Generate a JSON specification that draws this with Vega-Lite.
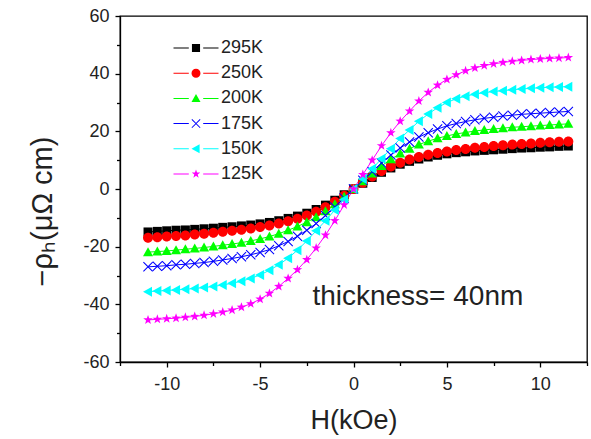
{
  "$schema": "https://vega.github.io/schema/vega-lite/v6.json",
  "width": 467,
  "height": 346,
  "autosize": {"type": "none"},
  "padding": {"left": 120, "top": 16, "right": 4, "bottom": 77},
  "config": {
    "view": {"stroke": "#000", "strokeWidth": 1.3},
    "font": "Liberation Sans",
    "axis": {"domainColor": "#000", "domainWidth": 1.3, "tickColor": "#000", "tickWidth": 1.3, "labelColor": "#222", "labelFontSize": 18, "labelFont": "Liberation Sans", "titleFont": "Liberation Sans", "titleFontSize": 27, "titleFontWeight": "normal", "titleColor": "#222", "grid": false, "labelExpr": "replace(datum.label, '\u2212', '-')"}
  },
  "datasets": {
    "d": [
      {"T":"295K","H":-11,"R":-14.9},{"T":"295K","H":-10.5,"R":-14.7},{"T":"295K","H":-10,"R":-14.5},{"T":"295K","H":-9.5,"R":-14.3},{"T":"295K","H":-9,"R":-14.2},{"T":"295K","H":-8.5,"R":-14},{"T":"295K","H":-8,"R":-13.8},{"T":"295K","H":-7.5,"R":-13.6},{"T":"295K","H":-7,"R":-13.3},{"T":"295K","H":-6.5,"R":-13.1},{"T":"295K","H":-6,"R":-12.8},{"T":"295K","H":-5.5,"R":-12.5},{"T":"295K","H":-5,"R":-12.1},{"T":"295K","H":-4.5,"R":-11.6},{"T":"295K","H":-4,"R":-11},{"T":"295K","H":-3.5,"R":-10.2},{"T":"295K","H":-3,"R":-9.4},{"T":"295K","H":-2.5,"R":-8.4},{"T":"295K","H":-2,"R":-7.1},{"T":"295K","H":-1.5,"R":-5.6},{"T":"295K","H":-1,"R":-3.9},{"T":"295K","H":-0.5,"R":-2},
      {"T":"295K","H":0,"R":0},{"T":"295K","H":0.5,"R":2},{"T":"295K","H":1,"R":4},{"T":"295K","H":1.5,"R":5.8},{"T":"295K","H":2,"R":7.3},{"T":"295K","H":2.5,"R":8.6},{"T":"295K","H":3,"R":9.6},{"T":"295K","H":3.5,"R":10.4},{"T":"295K","H":4,"R":11.1},{"T":"295K","H":4.5,"R":11.7},{"T":"295K","H":5,"R":12.2},{"T":"295K","H":5.5,"R":12.6},{"T":"295K","H":6,"R":12.9},{"T":"295K","H":6.5,"R":13.2},{"T":"295K","H":7,"R":13.4},{"T":"295K","H":7.5,"R":13.6},{"T":"295K","H":8,"R":13.8},{"T":"295K","H":8.5,"R":14},{"T":"295K","H":9,"R":14.2},{"T":"295K","H":9.5,"R":14.3},{"T":"295K","H":10,"R":14.5},{"T":"295K","H":10.5,"R":14.6},{"T":"295K","H":11,"R":14.8},{"T":"295K","H":11.5,"R":14.9},

      {"T":"250K","H":-11,"R":-16.9},{"T":"250K","H":-10.5,"R":-16.7},{"T":"250K","H":-10,"R":-16.5},{"T":"250K","H":-9.5,"R":-16.3},{"T":"250K","H":-9,"R":-16.1},{"T":"250K","H":-8.5,"R":-15.8},{"T":"250K","H":-8,"R":-15.5},{"T":"250K","H":-7.5,"R":-15.2},{"T":"250K","H":-7,"R":-14.8},{"T":"250K","H":-6.5,"R":-14.5},{"T":"250K","H":-6,"R":-14.1},{"T":"250K","H":-5.5,"R":-13.7},{"T":"250K","H":-5,"R":-13.2},{"T":"250K","H":-4.5,"R":-12.7},{"T":"250K","H":-4,"R":-12},{"T":"250K","H":-3.5,"R":-11.2},{"T":"250K","H":-3,"R":-10.3},{"T":"250K","H":-2.5,"R":-9.2},{"T":"250K","H":-2,"R":-7.9},{"T":"250K","H":-1.5,"R":-6.3},{"T":"250K","H":-1,"R":-4.4},{"T":"250K","H":-0.5,"R":-2.3},
      {"T":"250K","H":0,"R":0},{"T":"250K","H":0.5,"R":2.2},{"T":"250K","H":1,"R":4.3},{"T":"250K","H":1.5,"R":6.2},{"T":"250K","H":2,"R":7.8},{"T":"250K","H":2.5,"R":9.1},{"T":"250K","H":3,"R":10.2},{"T":"250K","H":3.5,"R":11.1},{"T":"250K","H":4,"R":11.9},{"T":"250K","H":4.5,"R":12.5},{"T":"250K","H":5,"R":13},{"T":"250K","H":5.5,"R":13.5},{"T":"250K","H":6,"R":13.9},{"T":"250K","H":6.5,"R":14.3},{"T":"250K","H":7,"R":14.6},{"T":"250K","H":7.5,"R":14.9},{"T":"250K","H":8,"R":15.2},{"T":"250K","H":8.5,"R":15.4},{"T":"250K","H":9,"R":15.6},{"T":"250K","H":9.5,"R":15.8},{"T":"250K","H":10,"R":16},{"T":"250K","H":10.5,"R":16.2},{"T":"250K","H":11,"R":16.4},{"T":"250K","H":11.5,"R":16.5},

      {"T":"200K","H":-11,"R":-21.9},{"T":"200K","H":-10.5,"R":-21.7},{"T":"200K","H":-10,"R":-21.5},{"T":"200K","H":-9.5,"R":-21.2},{"T":"200K","H":-9,"R":-20.9},{"T":"200K","H":-8.5,"R":-20.6},{"T":"200K","H":-8,"R":-20.3},{"T":"200K","H":-7.5,"R":-19.9},{"T":"200K","H":-7,"R":-19.5},{"T":"200K","H":-6.5,"R":-19.1},{"T":"200K","H":-6,"R":-18.6},{"T":"200K","H":-5.5,"R":-18},{"T":"200K","H":-5,"R":-17.3},{"T":"200K","H":-4.5,"R":-16.5},{"T":"200K","H":-4,"R":-15.5},{"T":"200K","H":-3.5,"R":-14.3},{"T":"200K","H":-3,"R":-13},{"T":"200K","H":-2.5,"R":-11.5},{"T":"200K","H":-2,"R":-9.8},{"T":"200K","H":-1.5,"R":-7.7},{"T":"200K","H":-1,"R":-5.3},{"T":"200K","H":-0.5,"R":-2.7},
      {"T":"200K","H":0,"R":0},{"T":"200K","H":0.5,"R":2.7},{"T":"200K","H":1,"R":5.4},{"T":"200K","H":1.5,"R":8},{"T":"200K","H":2,"R":10.3},{"T":"200K","H":2.5,"R":12.3},{"T":"200K","H":3,"R":14},{"T":"200K","H":3.5,"R":15.4},{"T":"200K","H":4,"R":16.6},{"T":"200K","H":4.5,"R":17.6},{"T":"200K","H":5,"R":18.4},{"T":"200K","H":5.5,"R":19.1},{"T":"200K","H":6,"R":19.6},{"T":"200K","H":6.5,"R":20.1},{"T":"200K","H":7,"R":20.5},{"T":"200K","H":7.5,"R":20.8},{"T":"200K","H":8,"R":21.1},{"T":"200K","H":8.5,"R":21.4},{"T":"200K","H":9,"R":21.6},{"T":"200K","H":9.5,"R":21.8},{"T":"200K","H":10,"R":22},{"T":"200K","H":10.5,"R":22.2},{"T":"200K","H":11,"R":22.4},{"T":"200K","H":11.5,"R":22.6},

      {"T":"175K","H":-11,"R":-27},{"T":"175K","H":-10.5,"R":-26.8},{"T":"175K","H":-10,"R":-26.6},{"T":"175K","H":-9.5,"R":-26.3},{"T":"175K","H":-9,"R":-26.1},{"T":"175K","H":-8.5,"R":-25.8},{"T":"175K","H":-8,"R":-25.5},{"T":"175K","H":-7.5,"R":-25.1},{"T":"175K","H":-7,"R":-24.6},{"T":"175K","H":-6.5,"R":-24.1},{"T":"175K","H":-6,"R":-23.5},{"T":"175K","H":-5.5,"R":-22.8},{"T":"175K","H":-5,"R":-22},{"T":"175K","H":-4.5,"R":-21},{"T":"175K","H":-4,"R":-19.7},{"T":"175K","H":-3.5,"R":-18.2},{"T":"175K","H":-3,"R":-16.4},{"T":"175K","H":-2.5,"R":-14.3},{"T":"175K","H":-2,"R":-12},{"T":"175K","H":-1.5,"R":-9.2},{"T":"175K","H":-1,"R":-6.2},{"T":"175K","H":-0.5,"R":-3.1},
      {"T":"175K","H":0,"R":0},{"T":"175K","H":0.5,"R":3},{"T":"175K","H":1,"R":6},{"T":"175K","H":1.5,"R":9},{"T":"175K","H":2,"R":11.8},{"T":"175K","H":2.5,"R":14.2},{"T":"175K","H":3,"R":16.3},{"T":"175K","H":3.5,"R":18},{"T":"175K","H":4,"R":19.5},{"T":"175K","H":4.5,"R":20.8},{"T":"175K","H":5,"R":21.9},{"T":"175K","H":5.5,"R":22.7},{"T":"175K","H":6,"R":23.4},{"T":"175K","H":6.5,"R":24},{"T":"175K","H":7,"R":24.5},{"T":"175K","H":7.5,"R":24.9},{"T":"175K","H":8,"R":25.3},{"T":"175K","H":8.5,"R":25.6},{"T":"175K","H":9,"R":25.9},{"T":"175K","H":9.5,"R":26.1},{"T":"175K","H":10,"R":26.3},{"T":"175K","H":10.5,"R":26.5},{"T":"175K","H":11,"R":26.7},{"T":"175K","H":11.5,"R":26.9},

      {"T":"150K","H":-11,"R":-35.6},{"T":"150K","H":-10.5,"R":-35.4},{"T":"150K","H":-10,"R":-35.2},{"T":"150K","H":-9.5,"R":-35},{"T":"150K","H":-9,"R":-34.8},{"T":"150K","H":-8.5,"R":-34.5},{"T":"150K","H":-8,"R":-34.2},{"T":"150K","H":-7.5,"R":-33.8},{"T":"150K","H":-7,"R":-33.3},{"T":"150K","H":-6.5,"R":-32.7},{"T":"150K","H":-6,"R":-32},{"T":"150K","H":-5.5,"R":-31},{"T":"150K","H":-5,"R":-29.8},{"T":"150K","H":-4.5,"R":-28.2},{"T":"150K","H":-4,"R":-26.3},{"T":"150K","H":-3.5,"R":-24},{"T":"150K","H":-3,"R":-21.2},{"T":"150K","H":-2.5,"R":-18},{"T":"150K","H":-2,"R":-14.5},{"T":"150K","H":-1.5,"R":-11},{"T":"150K","H":-1,"R":-7.3},{"T":"150K","H":-0.5,"R":-3.6},
      {"T":"150K","H":0,"R":0},{"T":"150K","H":0.5,"R":3.5},{"T":"150K","H":1,"R":7},{"T":"150K","H":1.5,"R":10.5},{"T":"150K","H":2,"R":14},{"T":"150K","H":2.5,"R":17.5},{"T":"150K","H":3,"R":20.5},{"T":"150K","H":3.5,"R":23.5},{"T":"150K","H":4,"R":26},{"T":"150K","H":4.5,"R":28.2},{"T":"150K","H":5,"R":30},{"T":"150K","H":5.5,"R":31.3},{"T":"150K","H":6,"R":32.2},{"T":"150K","H":6.5,"R":32.9},{"T":"150K","H":7,"R":33.4},{"T":"150K","H":7.5,"R":33.8},{"T":"150K","H":8,"R":34.1},{"T":"150K","H":8.5,"R":34.4},{"T":"150K","H":9,"R":34.7},{"T":"150K","H":9.5,"R":34.9},{"T":"150K","H":10,"R":35.1},{"T":"150K","H":10.5,"R":35.3},{"T":"150K","H":11,"R":35.4},{"T":"150K","H":11.5,"R":35.5},

      {"T":"125K","H":-11,"R":-45.4},{"T":"125K","H":-10.5,"R":-45.2},{"T":"125K","H":-10,"R":-45},{"T":"125K","H":-9.5,"R":-44.8},{"T":"125K","H":-9,"R":-44.5},{"T":"125K","H":-8.5,"R":-44.2},{"T":"125K","H":-8,"R":-43.8},{"T":"125K","H":-7.5,"R":-43.3},{"T":"125K","H":-7,"R":-42.7},{"T":"125K","H":-6.5,"R":-42},{"T":"125K","H":-6,"R":-41},{"T":"125K","H":-5.5,"R":-39.8},{"T":"125K","H":-5,"R":-38.2},{"T":"125K","H":-4.5,"R":-36.2},{"T":"125K","H":-4,"R":-33.8},{"T":"125K","H":-3.5,"R":-31},{"T":"125K","H":-3,"R":-28},{"T":"125K","H":-2.5,"R":-24.5},{"T":"125K","H":-2,"R":-20.5},{"T":"125K","H":-1.5,"R":-16},{"T":"125K","H":-1,"R":-11},{"T":"125K","H":-0.5,"R":-5.5},
      {"T":"125K","H":0,"R":0},{"T":"125K","H":0.5,"R":5},{"T":"125K","H":1,"R":10},{"T":"125K","H":1.5,"R":15},{"T":"125K","H":2,"R":19.5},{"T":"125K","H":2.5,"R":23.5},{"T":"125K","H":3,"R":27},{"T":"125K","H":3.5,"R":30.5},{"T":"125K","H":4,"R":33.5},{"T":"125K","H":4.5,"R":36},{"T":"125K","H":5,"R":38},{"T":"125K","H":5.5,"R":39.6},{"T":"125K","H":6,"R":41},{"T":"125K","H":6.5,"R":42},{"T":"125K","H":7,"R":42.8},{"T":"125K","H":7.5,"R":43.4},{"T":"125K","H":8,"R":43.9},{"T":"125K","H":8.5,"R":44.3},{"T":"125K","H":9,"R":44.6},{"T":"125K","H":9.5,"R":44.9},{"T":"125K","H":10,"R":45.1},{"T":"125K","H":10.5,"R":45.3},{"T":"125K","H":11,"R":45.4},{"T":"125K","H":11.5,"R":45.6}
    ]
  },
  "data": {"name": "d"},
  "layer": [
    {
      "mark": {"type": "line", "strokeWidth": 1},
      "encoding": {
        "x": {"field": "H", "type": "quantitative", "scale": {"domain": [-12.5, 12.5], "nice": false, "zero": false},
              "axis": {"orient": "bottom", "values": [-12.5, -7.5, -2.5, 2.5, 7.5, 12.5], "tickSize": 3.5, "labels": false, "domain": false, "title": null}},
        "y": {"field": "R", "type": "quantitative", "scale": {"domain": [-60, 60], "nice": false, "zero": false},
              "axis": {"orient": "left", "values": [-50, -30, -10, 10, 30, 50], "tickSize": 3.5, "labels": false, "domain": false, "title": null}},
        "color": {"field": "T", "type": "nominal",
                  "scale": {"domain": ["295K", "250K", "200K", "175K", "150K", "125K"], "range": ["#000000", "#FF0000", "#00FF00", "#0000FF", "#00FFFF", "#FF00FF"]},
                  "legend": null}
      }
    },
    {
      "mark": {"type": "point", "filled": true, "size": 100, "opacity": 1, "strokeWidth": 0},
      "encoding": {
        "x": {"field": "H", "type": "quantitative",
              "axis": {"orient": "bottom", "values": [-10, -5, 0, 5, 10], "tickSize": 5, "labelPadding": 8, "title": "H(kOe)", "titlePadding": 14}},
        "y": {"field": "R", "type": "quantitative",
              "axis": {"orient": "left", "values": [-60, -40, -20, 0, 20, 40, 60], "tickSize": 5, "labelPadding": 6, "title": "−ρₕ(μΩ cm)", "titlePadding": 25, "titleFontSize": 29, "titleY": 195}},
        "color": {"field": "T", "type": "nominal",
                  "scale": {"domain": ["295K", "250K", "200K", "175K", "150K", "125K"], "range": ["#000000", "#FF0000", "#00FF00", "#0000FF", "#00FFFF", "#FF00FF"]},
                  "legend": null},
        "shape": {"field": "T", "type": "nominal",
                  "scale": {"domain": ["295K", "250K", "200K", "175K", "150K", "125K"],
                            "range": [
                              "M-0.9,-0.9H0.9V0.9H-0.9Z",
                              "M-1,0A1,1,0,1,0,1,0A1,1,0,1,0,-1,0Z",
                              "M0,-1L1,0.8L-1,0.8Z",
                              "M-1,-0.85L-0.85,-1L1,0.85L0.85,1Z M0.85,-1L1,-0.85L-0.85,1L-1,0.85Z",
                              "M-1,0L0.8,-1L0.8,1Z",
                              "M0,-1L0.235,-0.324L0.951,-0.309L0.38,0.124L0.588,0.809L0,0.4L-0.588,0.809L-0.38,0.124L-0.951,-0.309L-0.235,-0.324Z"
                            ]},
                  "legend": null}
      }
    },
    {
      "mark": {"type": "point", "filled": true, "size": 0, "strokeWidth": 0},
      "encoding": {
        "x": {"field": "H", "type": "quantitative", "axis": null},
        "y": {"field": "R", "type": "quantitative", "axis": null},
        "color": {"field": "T", "type": "nominal",
                  "scale": {"domain": ["295K", "250K", "200K", "175K", "150K", "125K"], "range": ["#000000", "#FF0000", "#00FF00", "#0000FF", "#00FFFF", "#FF00FF"]},
                  "legend": {"title": null, "orient": "none", "legendX": 67, "legendY": 23, "labelFontSize": 18, "labelFont": "Liberation Sans", "labelColor": "#222", "symbolSize": 81, "symbolStrokeWidth": 0, "symbolOpacity": 1, "labelOffset": 16, "rowPadding": 7.2, "padding": 0}},
        "shape": {"field": "T", "type": "nominal",
                  "scale": {"domain": ["295K", "250K", "200K", "175K", "150K", "125K"],
                            "range": [
                              "M-5,-0.11H-1.6V0.11H-5Z M1.6,-0.11H5V0.11H1.6Z M-0.9,-0.9H0.9V0.9H-0.9Z",
                              "M-5,-0.11H-1.6V0.11H-5Z M1.6,-0.11H5V0.11H1.6Z M-1,0A1,1,0,1,0,1,0A1,1,0,1,0,-1,0Z",
                              "M-5,-0.11H-1.6V0.11H-5Z M1.6,-0.11H5V0.11H1.6Z M0,-1L1,0.8L-1,0.8Z",
                              "M-5,-0.11H-1.6V0.11H-5Z M1.6,-0.11H5V0.11H1.6Z M-1,-0.85L-0.85,-1L1,0.85L0.85,1Z M0.85,-1L1,-0.85L-0.85,1L-1,0.85Z",
                              "M-5,-0.11H-1.6V0.11H-5Z M1.6,-0.11H5V0.11H1.6Z M-1,0L0.8,-1L0.8,1Z",
                              "M-5,-0.11H-1.6V0.11H-5Z M1.6,-0.11H5V0.11H1.6Z M0,-1L0.235,-0.324L0.951,-0.309L0.38,0.124L0.588,0.809L0,0.4L-0.588,0.809L-0.38,0.124L-0.951,-0.309L-0.235,-0.324Z"
                            ]},
                  "legend": {"title": null, "orient": "none", "legendX": 67, "legendY": 23, "labelFontSize": 18, "labelFont": "Liberation Sans", "labelColor": "#222", "symbolSize": 81, "symbolStrokeWidth": 0, "symbolOpacity": 1, "labelOffset": 16, "rowPadding": 7.2, "padding": 0}}
      }
    },
    {
      "data": {"values": [{}]},
      "mark": {"type": "text", "text": "thickness= 40nm", "align": "left", "baseline": "alphabetic", "fontSize": 28, "font": "Liberation Sans", "color": "#222"},
      "encoding": {
        "x": {"datum": -2.2, "type": "quantitative", "axis": null},
        "y": {"datum": -40.2, "type": "quantitative", "axis": null}
      }
    }
  ],
  "resolve": {"scale": {"color": "independent", "shape": "independent"}, "axis": {"x": "independent", "y": "independent"}}
}
